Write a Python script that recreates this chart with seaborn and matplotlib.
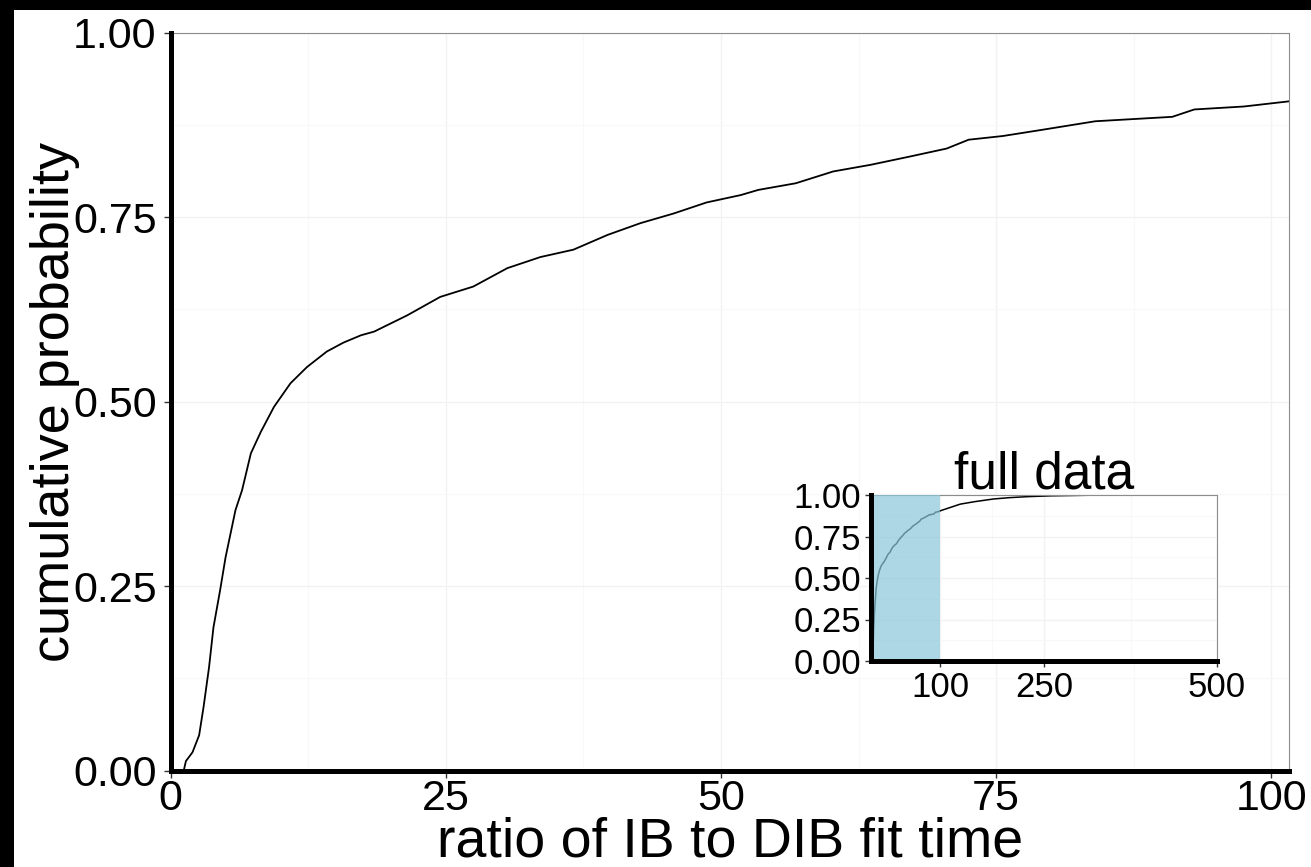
import matplotlib.pyplot as plt
from matplotlib.patches import Rectangle
from matplotlib.ticker import FixedLocator
import numpy as np
import pandas as pd
import seaborn as sns

# ECDF of IB / DIB fit time ratio (ratio, cumulative probability)
ratio = [1.2, 1.4, 2.0, 2.6, 3.0, 3.5, 3.9, 4.5, 5.0, 5.45, 5.9, 6.5, 7.3, 8.2, 9.4,
         10.9, 12.4, 14.2, 15.7, 17.3, 18.5, 21.5, 24.5, 27.5, 30.6, 33.6, 36.6, 39.7,
         42.7, 45.7, 48.7, 51.8, 53.4, 56.8, 60.2, 63.6, 67.1, 70.5, 72.5, 75.6, 79.0,
         84.0, 87.5, 91.0, 93.0, 97.5, 101.6]
cum_prob = [0.0, 0.013, 0.025, 0.048, 0.086, 0.140, 0.194, 0.244, 0.289, 0.321, 0.353,
            0.380, 0.430, 0.459, 0.493, 0.525, 0.547, 0.568, 0.580, 0.590, 0.595, 0.617,
            0.642, 0.656, 0.681, 0.696, 0.706, 0.726, 0.742, 0.755, 0.770, 0.780, 0.787,
            0.796, 0.812, 0.821, 0.832, 0.843, 0.855, 0.860, 0.868, 0.880, 0.883, 0.886,
            0.896, 0.900, 0.907]
# rest of the data (only visible in the inset)
tail_ratio = [129, 150, 177, 200, 226, 260, 321, 400, 465]
tail_prob = [0.945, 0.960, 0.976, 0.984, 0.990, 0.995, 0.999, 1.0, 1.0]

main_xticks = [0, 25, 50, 75, 100]
main_xminor = [12.5, 37.5, 62.5, 87.5]
prob_ticks = [0, 0.25, 0.5, 0.75, 1.0]
prob_minor = [0.125, 0.375, 0.625, 0.875]
inset_xticks = [100, 250, 500]
inset_xminor = [175, 375]

df = pd.DataFrame({'ratio': ratio, 'cum_prob': cum_prob})
df_full = pd.concat([df, pd.DataFrame({'ratio': tail_ratio, 'cum_prob': tail_prob})],
                    ignore_index=True)

sns.set_style('white')
plt.rcParams['font.family'] = ['Liberation Sans', 'DejaVu Sans']
plt.rcParams['text.color'] = 'black'
plt.rcParams['axes.labelcolor'] = 'black'
plt.rcParams['xtick.color'] = 'black'
plt.rcParams['ytick.color'] = 'black'

W, H = 1311, 867
fig = plt.figure(figsize=(W / 100, H / 100), dpi=100, facecolor='black')
fig.add_artist(Rectangle((14 / W, 0), 1, 1 - 10 / H, transform=fig.transFigure,
                         facecolor='white', edgecolor='none', zorder=-1))


def style_axes(ax, thick):
    for s in ['top', 'right']:
        ax.spines[s].set(color='#8c8c8c', linewidth=0.8)
    for s in ['left', 'bottom']:
        ax.spines[s].set(color='black', linewidth=thick, zorder=5)
    ax.grid(which='major', color='#f2f2f2', lw=1.0)
    ax.grid(which='minor', color='#f8f8f8', lw=0.8)
    ax.set_axisbelow(True)
    ax.tick_params(which='major', bottom=True, left=True, color='#333333', width=1,
                   labelcolor='black')
    ax.tick_params(which='minor', bottom=False, left=False, length=0)


# main panel
ax = fig.add_axes([170.5 / W, 1 - 770.7 / H, (1289 - 170.5) / W, (770.7 - 32.7) / H])
sns.lineplot(data=df, x='ratio', y='cum_prob', ax=ax, color='black', lw=1.3,
             estimator=None)
ax.set_xlim(0, 101.6)
ax.set_ylim(0, 1)
ax.set_xticks(main_xticks)
ax.set_yticks(prob_ticks)
ax.set_yticklabels([f'{v:.2f}' for v in prob_ticks])
ax.xaxis.set_minor_locator(FixedLocator(main_xminor))
ax.yaxis.set_minor_locator(FixedLocator(prob_minor))
style_axes(ax, 3.6)
ax.tick_params(which='major', labelsize=31, length=5)
ax.tick_params(axis='x', pad=1)
ax.tick_params(axis='y', pad=5)
ax.set_xlabel('ratio of IB to DIB fit time', fontsize=40)
ax.xaxis.set_label_coords(0.5, -0.062)
ax.set_ylabel('cumulative probability', fontsize=39)
ax.yaxis.label.set_va('center')
ax.yaxis.set_label_coords(-0.1033, 0.5)

# inset with the full range
ax_in = fig.add_axes([871 / W, 1 - 661 / H, (1217 - 871) / W, (661 - 495) / H])
sns.lineplot(data=df_full, x='ratio', y='cum_prob', ax=ax_in, color='black', lw=1.1,
             estimator=None)
ax_in.axvspan(0, 100, color='#8ac7db', alpha=0.7, lw=0, zorder=3)
ax_in.set_xlim(0, 500)
ax_in.set_ylim(0, 1)
ax_in.set_xticks(inset_xticks)
ax_in.set_yticks(prob_ticks)
ax_in.set_yticklabels([f'{v:.2f}' for v in prob_ticks])
ax_in.xaxis.set_minor_locator(FixedLocator(inset_xminor))
ax_in.yaxis.set_minor_locator(FixedLocator(prob_minor))
style_axes(ax_in, 3.6)
ax_in.tick_params(which='major', labelsize=25, length=4, pad=3)
ax_in.set_xlabel('')
ax_in.set_ylabel('')
ax_in.set_title('full data', fontsize=37, pad=5)

fig.savefig('out.png', dpi=100, facecolor=fig.get_facecolor())
